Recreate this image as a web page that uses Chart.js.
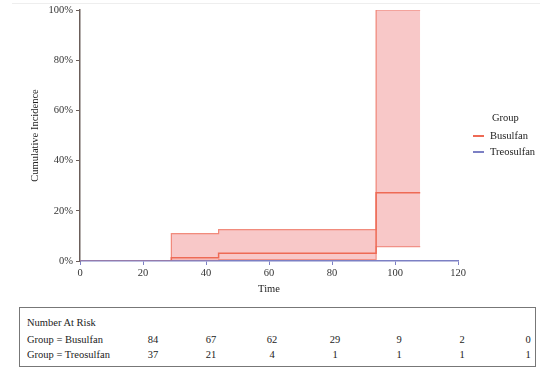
<!DOCTYPE html>
<html>
<head>
<meta charset="utf-8">
<script src="https://cdn.jsdelivr.net/npm/chart.js@4.4.1/dist/chart.umd.min.js"></script>
<style>
  body { margin: 0; background: #fff; font-family: "Liberation Serif", serif; color: #222; }
  #wrap { position: relative; width: 553px; height: 387px; }
  #topline { position: absolute; left: 12px; top: 3px; width: 528px; border-top: 1px solid #eee; }
  #chartBox { position: absolute; left: 0; top: 0; width: 553px; height: 300px; }
  #legend { position: absolute; left: 473px; top: 112px; font-size: 10.5px; color: #222; }
  #legend .ttl { margin-left: 19px; margin-bottom: 5px; }
  #legend .item { position: relative; height: 16px; line-height: 16px; padding-left: 17px; }
  #legend .sw { position: absolute; left: 0; top: 7px; width: 11px; height: 2px; }
  #risk { position: absolute; left: 19px; top: 307px; width: 515px; height: 58px; border: 1.5px solid #777; font-size: 10.5px; color: #222; }
  #risk .row { position: absolute; left: 0; width: 100%; height: 14px; }
  #risk .lab { position: absolute; left: 7px; }
  #risk .num { position: absolute; width: 30px; margin-left: -15px; text-align: center; color: #222; }
</style>
</head>
<body>
<div id="wrap">
  <div id="topline"></div>
  <div id="chartBox"><canvas id="kmChart" width="553" height="300"></canvas></div>
  <div id="legend"></div>
  <div id="risk"></div>
</div>
<script>
// step times and cumulative incidence (%)
const busTimes = [0, 29, 44, 94, 108];
const busEstimate = [0, 1.3, 3.1, 27.2, 27.2];
const busUpper = [0, 10.9, 12.5, 100, 100];
const busLower = [0, 0.3, 0.6, 5.7, 5.7];
const treoTimes = [0, 120];
const treoEstimate = [0, 0];

const groups = ['Busulfan', 'Treosulfan'];
const groupColors = ['#EE6A55', '#7C80C4'];

const xTicks = [0, 20, 40, 60, 80, 100, 120];
const yTicks = [0, 20, 40, 60, 80, 100];

// number at risk, at the x tick times
const riskBusulfan = [84, 67, 62, 29, 9, 2, 0];
const riskTreosulfan = [37, 21, 4, 1, 1, 1, 1];

const toPoints = (xs, ys) => xs.map((x, i) => ({ x: x, y: ys[i] }));
const font = { family: 'Liberation Serif', size: 10.5 };

new Chart(document.getElementById('kmChart').getContext('2d'), {
    type: 'line',
    data: {
        datasets: [
            {
                label: 'Treosulfan',
                data: toPoints(treoTimes, treoEstimate),
                borderColor: groupColors[1],
                borderWidth: 1.5,
                stepped: true,
                pointRadius: 0,
                fill: false,
            },
            {
                label: 'Busulfan',
                data: toPoints(busTimes, busEstimate),
                borderColor: groupColors[0],
                borderWidth: 1.5,
                stepped: true,
                pointRadius: 0,
                fill: false,
            },
            {
                label: 'upper',
                data: toPoints(busTimes, busUpper),
                borderColor: 'rgba(238, 106, 85, 0.75)',
                backgroundColor: 'rgba(242, 150, 150, 0.52)',
                borderWidth: 1.2,
                stepped: true,
                pointRadius: 0,
                fill: '+1',
            },
            {
                label: 'lower',
                data: toPoints(busTimes, busLower),
                borderColor: 'rgba(238, 106, 85, 0.75)',
                borderWidth: 1.2,
                stepped: true,
                pointRadius: 0,
                fill: false,
            },
        ],
    },
    options: {
        responsive: false,
        animation: false,
        layout: { padding: { left: 25, right: 95, top: 10, bottom: 0 } },
        plugins: { legend: { display: false }, tooltip: { enabled: false } },
        scales: {
            x: {
                type: 'linear',
                min: 0,
                max: 120,
                afterBuildTicks: s => { s.ticks = xTicks.map(v => ({ value: v })); },
                ticks: { color: '#333', font: font, padding: 2, maxRotation: 0 },
                grid: { drawOnChartArea: false, tickLength: 4, color: groupColors[1] },
                border: { color: groupColors[1], width: 1.5 },
                title: { display: true, text: 'Time', color: '#222', font: font, padding: { top: 3 } },
                afterFit: s => { s.height = 39; },
            },
            y: {
                min: 0,
                max: 100,
                afterBuildTicks: s => { s.ticks = yTicks.map(v => ({ value: v })); },
                ticks: { color: '#333', font: font, padding: 3, callback: v => v + '%' },
                grid: { drawOnChartArea: false, tickLength: 4, color: '#6b5e5a' },
                border: { color: '#6b5e5a', width: 1.5 },
                title: { display: true, text: 'Cumulative Incidence', color: '#222', font: font, padding: { bottom: 6 } },
                afterFit: s => { s.width = 55; },
            },
        },
    },
});

// legend
const legend = document.getElementById('legend');
legend.innerHTML = '<div class="ttl">Group</div>' + groups.map((g, i) =>
    '<div class="item"><span class="sw" style="background:' + groupColors[i] + '"></span>' + g + '</div>').join('');

// number at risk table
const colX = [133, 191, 252, 315, 379, 442, 508];
const risk = document.getElementById('risk');
let html = '<div class="row" style="top:9px"><span class="lab">Number At Risk</span></div>';
[['Group = Busulfan', riskBusulfan, 26], ['Group = Treosulfan', riskTreosulfan, 41]].forEach(r => {
    html += '<div class="row" style="top:' + r[2] + 'px"><span class="lab">' + r[0] + '</span>' +
        r[1].map((n, i) => '<span class="num" style="left:' + colX[i] + 'px">' + n + '</span>').join('') + '</div>';
});
risk.innerHTML = html;
</script>
</body>
</html>
